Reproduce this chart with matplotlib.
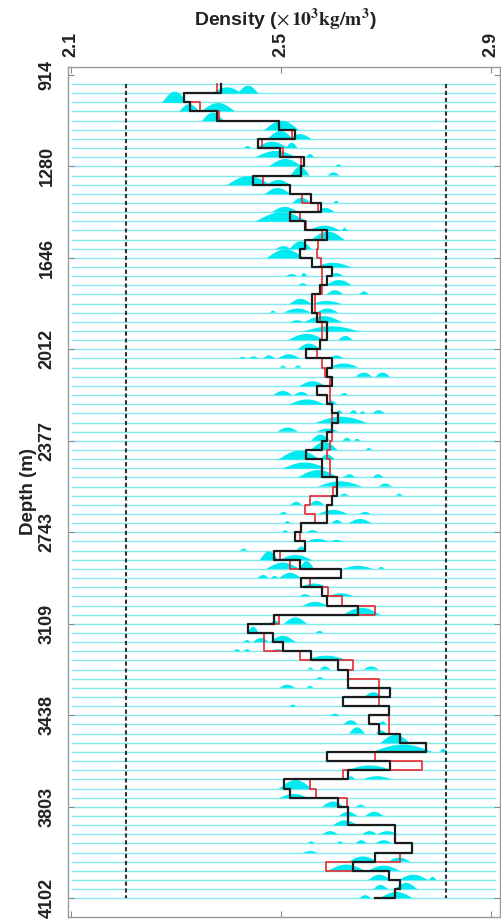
import numpy as np
import matplotlib.pyplot as plt

plt.rcParams['font.family'] = ['Liberation Sans', 'DejaVu Sans']
plt.rcParams['mathtext.fontset'] = 'stix'

# depth labels shown every 10 layers
depth_labels = [914, 1280, 1646, 2012, 2377, 2743, 3109, 3438, 3803, 4102]

# inverted density per layer (black) and reference model (red), x10^3 kg/m^3
rho_est = [
    2.386, 2.315, 2.327, 2.378, 2.496, 2.527, 2.456, 2.498, 2.544, 2.538,
    2.446, 2.517, 2.557, 2.576, 2.517, 2.546, 2.587, 2.546, 2.536, 2.558,
    2.597, 2.587, 2.574, 2.558, 2.558, 2.568, 2.587, 2.587, 2.574, 2.548,
    2.597, 2.587, 2.597, 2.568, 2.587, 2.597, 2.608, 2.597, 2.587, 2.578,
    2.548, 2.578, 2.578, 2.606, 2.606, 2.597, 2.587, 2.587, 2.538, 2.527,
    2.546, 2.487, 2.536, 2.614, 2.538, 2.578, 2.587, 2.647, 2.487, 2.437,
    2.485, 2.504, 2.557, 2.608, 2.627, 2.627, 2.708, 2.617, 2.706, 2.668,
    2.687, 2.727, 2.776, 2.587, 2.708, 2.627, 2.506, 2.517, 2.608, 2.627,
    2.627, 2.717, 2.717, 2.749, 2.678, 2.636, 2.706, 2.727, 2.717, 2.678,
]
rho_true = [
    2.378, 2.315, 2.346, 2.382, 2.496, 2.520, 2.463, 2.503, 2.538, 2.538,
    2.466, 2.517, 2.539, 2.570, 2.536, 2.548, 2.578, 2.570, 2.568, 2.576,
    2.578, 2.578, 2.578, 2.565, 2.565, 2.574, 2.578, 2.578, 2.574, 2.568,
    2.578, 2.584, 2.593, 2.593, 2.593, 2.597, 2.597, 2.597, 2.597, 2.593,
    2.587, 2.593, 2.593, 2.606, 2.598, 2.555, 2.546, 2.565, 2.538, 2.535,
    2.546, 2.498, 2.517, 2.614, 2.555, 2.590, 2.616, 2.678, 2.495, 2.437,
    2.468, 2.468, 2.536, 2.637, 2.627, 2.687, 2.687, 2.687, 2.706, 2.706,
    2.706, 2.727, 2.776, 2.678, 2.768, 2.617, 2.555, 2.567, 2.626, 2.627,
    2.627, 2.717, 2.717, 2.749, 2.727, 2.586, 2.706, 2.727, 2.717, 2.717,
]

# prior bounds
rho_lo, rho_hi = 2.205, 2.814

# posterior lobes on each layer line: (from, to, height in layer spacings)
lobes = {
    2: [(2.370, 2.422, 0.6), (2.418, 2.454, 0.75)],
    3: [(2.275, 2.318, 1.05)],
    4: [(2.308, 2.342, 0.7), (2.351, 2.409, 0.8)],
    5: [(2.350, 2.388, 0.8)],
    6: [(2.470, 2.530, 0.9)],
    7: [(2.475, 2.520, 0.8), (2.515, 2.555, 0.5)],
    8: [(2.430, 2.442, 0.2), (2.455, 2.510, 0.6), (2.510, 2.530, 0.5)],
    9: [(2.455, 2.525, 0.6), (2.548, 2.562, 0.3)],
    10: [(2.480, 2.536, 0.7), (2.604, 2.614, 0.2)],
    11: [(2.520, 2.552, 0.85), (2.590, 2.610, 0.3)],
    12: [(2.400, 2.475, 0.85), (2.473, 2.515, 0.5)],
    13: [(2.470, 2.515, 0.6)],
    14: [(2.523, 2.555, 0.5), (2.600, 2.610, 0.2)],
    15: [(2.485, 2.530, 0.5), (2.569, 2.600, 0.4)],
    16: [(2.455, 2.545, 0.9)],
    17: [(2.553, 2.610, 0.5), (2.615, 2.625, 0.3)],
    18: [(2.559, 2.617, 0.8)],
    19: [(2.490, 2.517, 0.3), (2.517, 2.555, 0.75)],
    20: [(2.475, 2.540, 0.85)],
    21: [(2.565, 2.630, 0.45)],
    22: [(2.510, 2.530, 0.2), (2.538, 2.549, 0.3), (2.593, 2.617, 0.3)],
    23: [(2.534, 2.549, 0.2), (2.588, 2.632, 0.5)],
    24: [(2.588, 2.617, 0.4), (2.650, 2.666, 0.3)],
    25: [(2.517, 2.555, 0.5), (2.559, 2.612, 0.3)],
    26: [(2.479, 2.490, 0.2), (2.507, 2.555, 0.4), (2.569, 2.607, 0.4)],
    27: [(2.517, 2.542, 0.2), (2.546, 2.612, 0.6)],
    28: [(2.546, 2.643, 0.5)],
    29: [(2.517, 2.580, 0.6), (2.610, 2.635, 0.4)],
    30: [(2.532, 2.572, 0.6)],
    31: [(2.420, 2.433, 0.15), (2.439, 2.456, 0.2), (2.467, 2.487, 0.3),
         (2.496, 2.534, 0.4), (2.593, 2.618, 0.3)],
    32: [(2.498, 2.509, 0.2), (2.526, 2.538, 0.2), (2.593, 2.645, 0.4)],
    33: [(2.643, 2.672, 0.4), (2.681, 2.706, 0.4)],
    34: [(2.536, 2.582, 0.5)],
    35: [(2.487, 2.519, 0.4), (2.526, 2.551, 0.3), (2.614, 2.627, 0.2)],
    36: [(2.517, 2.580, 0.5), (2.584, 2.605, 0.4)],
    37: [(2.605, 2.616, 0.3), (2.631, 2.645, 0.3), (2.650, 2.660, 0.2),
         (2.675, 2.696, 0.3)],
    38: [(2.569, 2.658, 0.6)],
    39: [(2.495, 2.530, 0.4), (2.569, 2.607, 0.3)],
    40: [(2.559, 2.591, 0.6), (2.618, 2.633, 0.3), (2.639, 2.650, 0.2)],
    41: [(2.559, 2.605, 0.75), (2.662, 2.672, 0.2)],
    42: [(2.498, 2.569, 0.85), (2.574, 2.600, 0.5)],
    43: [(2.506, 2.582, 0.6)],
    44: [(2.536, 2.605, 0.7), (2.620, 2.640, 0.3), (2.675, 2.694, 0.3)],
    45: [(2.574, 2.650, 0.5), (2.687, 2.710, 0.3)],
    46: [(2.612, 2.628, 0.2), (2.719, 2.731, 0.2)],
    47: [(2.519, 2.538, 0.3), (2.555, 2.580, 0.4)],
    48: [(2.498, 2.511, 0.2), (2.574, 2.624, 0.4), (2.650, 2.670, 0.2)],
    49: [(2.507, 2.517, 0.2), (2.597, 2.616, 0.3), (2.631, 2.670, 0.4)],
    50: [(2.502, 2.513, 0.2), (2.549, 2.570, 0.2)],
    51: [(2.549, 2.589, 0.3), (2.593, 2.617, 0.2)],
    52: [(2.422, 2.435, 0.2), (2.530, 2.547, 0.4)],
    53: [(2.460, 2.492, 0.85), (2.498, 2.555, 0.5)],
    54: [(2.475, 2.532, 0.6), (2.536, 2.561, 0.75), (2.620, 2.672, 0.3),
         (2.685, 2.696, 0.2)],
    55: [(2.456, 2.475, 0.3), (2.481, 2.494, 0.2), (2.498, 2.536, 0.5)],
    56: [(2.536, 2.586, 0.4)],
    57: [(2.536, 2.555, 0.2), (2.593, 2.636, 0.3)],
    58: [(2.542, 2.586, 0.4)],
    59: [(2.620, 2.685, 0.7)],
    60: [(2.479, 2.498, 0.3), (2.507, 2.547, 0.6)],
    61: [(2.437, 2.456, 0.6), (2.566, 2.580, 0.2)],
    62: [(2.429, 2.441, 0.2), (2.448, 2.475, 0.4), (2.481, 2.525, 0.6)],
    63: [(2.410, 2.422, 0.2), (2.429, 2.441, 0.2), (2.481, 2.507, 0.2)],
    64: [(2.546, 2.624, 0.5)],
    65: [(2.551, 2.561, 0.2), (2.574, 2.593, 0.3), (2.658, 2.685, 0.3)],
    66: [(2.566, 2.580, 0.2)],
    67: [(2.498, 2.525, 0.3), (2.549, 2.561, 0.2)],
    68: [(2.658, 2.691, 0.5)],
    69: [(2.515, 2.527, 0.2)],
    70: [(2.593, 2.610, 0.2)],
    71: [(2.620, 2.645, 0.4), (2.687, 2.700, 0.3)],
    72: [(2.631, 2.658, 0.6), (2.681, 2.700, 0.3)],
    73: [(2.691, 2.742, 0.8)],
    74: [(2.681, 2.782, 0.7), (2.803, 2.815, 0.3)],
    76: [(2.627, 2.708, 0.5)],
    77: [(2.627, 2.640, 0.3), (2.658, 2.708, 0.3)],
    78: [(2.498, 2.555, 0.85)],
    79: [(2.498, 2.549, 0.4)],
    80: [(2.580, 2.618, 0.5), (2.643, 2.660, 0.2)],
    81: [(2.612, 2.643, 0.4), (2.662, 2.693, 0.4)],
    82: [(2.599, 2.643, 0.5)],
    83: [(2.580, 2.607, 0.3), (2.656, 2.681, 0.3), (2.685, 2.720, 0.3)],
    84: [(2.551, 2.563, 0.2), (2.607, 2.618, 0.2), (2.643, 2.662, 0.3),
         (2.681, 2.710, 0.3)],
    85: [(2.542, 2.567, 0.2)],
    86: [(2.631, 2.681, 0.5), (2.706, 2.744, 0.4)],
    87: [(2.593, 2.656, 0.6), (2.668, 2.723, 0.5)],
    88: [(2.668, 2.706, 0.5), (2.727, 2.777, 0.5), (2.782, 2.795, 0.3)],
    89: [(2.677, 2.702, 0.4), (2.719, 2.757, 0.6)],
    90: [(2.650, 2.670, 0.3), (2.691, 2.748, 0.6)],
}

layers = np.arange(1, len(rho_est) + 1)
tick_pos = np.arange(0, 91, 10)

fig = plt.figure(figsize=(5.02, 9.19), dpi=100)
ax = fig.add_axes([0.1355, 0.0022, 0.8606, 0.9249])

cyan = '#00eaf2'
ax.hlines(layers, 2.1, 2.91, color='#80e9ec', lw=1.0, zorder=1)

# each lobe is drawn as a peaked mound standing on its layer line
xs = np.linspace(2.1, 2.91, 1500)
for k, parts in lobes.items():
    prof = np.zeros_like(xs)
    for a, b, h in parts:
        c, w = (a + b) / 2, (b - a) / 2 * 1.15
        t = (xs - c) / w
        bump = h * 1.15 * np.clip(1 - t ** 2, 0, None) ** 1.3
        prof = np.maximum(prof, bump)
    ax.fill_between(xs, k, k - prof, where=prof > 0, color=cyan, lw=0, zorder=2)

ax.vlines([rho_lo, rho_hi], 1, layers[-1], color='#333333', lw=1.5,
          linestyles=(0, (2, 1.3)), zorder=3)

ax.plot(rho_true, layers, drawstyle='steps-pre', color='#e8282d', lw=1.2, zorder=4)
ax.plot(rho_est, layers, drawstyle='steps-pre', color='#1c1c1c', lw=1.6, zorder=5)

ax.set_xlim(2.094, 2.917)
ax.set_ylim(92.04, -0.86)
ax.set_xticks([2.1, 2.5, 2.9])
ax.set_xticklabels(['2.1', '2.5', '2.9'], rotation=90)
ax.set_yticks(tick_pos)
ax.set_yticklabels([str(d) for d in depth_labels], rotation=90, va='center')
ax.xaxis.tick_top()
ax.tick_params(axis='both', direction='in', length=4, width=0.8, color='#888888',
               labelsize=13, labelcolor='#222222', top=True, bottom=True,
               left=True, right=True, labelbottom=False, labeltop=True)
ax.tick_params(axis='y', pad=9)
ax.tick_params(axis='x', pad=7)
for lab in ax.get_xticklabels() + ax.get_yticklabels():
    lab.set_fontweight('bold')
for s in ax.spines.values():
    s.set_color('#999999')
    s.set_linewidth(1.0)

ax.set_ylabel('Depth (m)', fontsize=13.5, fontweight='bold', color='#222222', labelpad=1)
fig.text(0.568, 1 - 20 / 919, 'Density (' + r'$\times\,\mathbf{10^3kg/m^3}$' + ')',
         ha='center', va='center', fontsize=14, fontweight='bold', color='#222222')

fig.savefig('out.png', dpi=100)
